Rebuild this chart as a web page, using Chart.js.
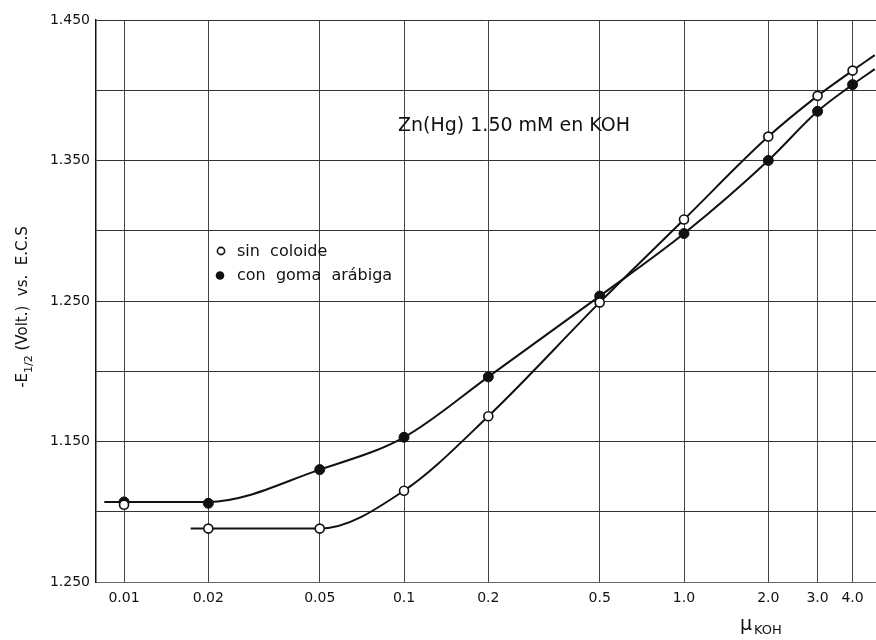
<!DOCTYPE html>
<html>
<head>
<meta charset="utf-8">
<script src="https://cdn.jsdelivr.net/npm/chart.js@4.4.1/dist/chart.umd.min.js"></script>
<style>
  html, body { margin: 0; padding: 0; background: #fff; }
  #wrap { width: 876px; height: 640px; }
</style>
</head>
<body>
<div id="wrap"><canvas id="chart"></canvas></div>
<script>
// measured points (mu KOH vs -E1/2)
const concentrations = [0.01, 0.02, 0.05, 0.1, 0.2, 0.5, 1.0, 2.0, 3.0, 4.0];
const sinColoide = [1.105, 1.088, 1.088, 1.115, 1.168, 1.249, 1.308, 1.367, 1.396, 1.414];
const conGoma = [1.107, 1.106, 1.130, 1.153, 1.196, 1.2535, 1.298, 1.350, 1.385, 1.404];

// hand-drawn fitted curves
const sinCurveX = [0.0173, 0.02, 0.05, 0.1, 0.2, 0.5, 1.0, 2.0, 3.0, 4.0, 4.8];
const sinCurveY = [1.088, 1.088, 1.088, 1.115, 1.168, 1.249, 1.308, 1.367, 1.396, 1.414, 1.425];
const gomaCurveX = [0.0085, 0.01, 0.02, 0.05, 0.1, 0.2, 0.5, 1.0, 2.0, 3.0, 4.0, 4.8];
const gomaCurveY = [1.107, 1.107, 1.107, 1.130, 1.153, 1.196, 1.2535, 1.298, 1.350, 1.385, 1.404, 1.415];

// axis ticks (the bottom label really reads 1.250 in the original)
const xTickValues = [0.01, 0.02, 0.05, 0.1, 0.2, 0.5, 1.0, 2.0, 3.0, 4.0];
const xTickLabels = ['0.01', '0.02', '0.05', '0.1', '0.2', '0.5', '1.0', '2.0', '3.0', '4.0'];
const yTickValues = [1.05, 1.15, 1.25, 1.35, 1.45];
const yTickLabels = ['1.250', '1.150', '1.250', '1.350', '1.450'];

const FONT = "'DejaVu Sans', sans-serif";

function pts(xs, ys) {
    return xs.map((x, i) => ({ x: x, y: ys[i] }));
}

// titles, legend and axis names drawn straight on the canvas
const annotations = {
    id: 'annotations',
    afterDraw(chart) {
        const ctx = chart.ctx;
        const area = chart.chartArea;
        ctx.save();
        ctx.fillStyle = '#111';
        ctx.strokeStyle = '#111';
        ctx.textBaseline = 'alphabetic';
        ctx.textAlign = 'left';

        // title
        ctx.font = '19px ' + FONT;
        ctx.fillText('Zn(Hg) 1.50 mM en KOH', area.left + 302, 131);

        // legend
        ctx.font = '16px ' + FONT;
        ctx.lineWidth = 1.6;
        ctx.beginPath();
        ctx.arc(area.left + 125, 251, 3.6, 0, Math.PI * 2);
        ctx.stroke();
        ctx.fillText('sin  coloide', area.left + 141, 256);
        ctx.beginPath();
        ctx.arc(area.left + 124, 275.5, 4.3, 0, Math.PI * 2);
        ctx.fill();
        ctx.fillText('con  goma  arábiga', area.left + 141, 280);

        // y axis title with subscript
        ctx.save();
        ctx.translate(27, 307);
        ctx.rotate(-Math.PI / 2);
        const big = '15px ' + FONT, small = '11px ' + FONT;
        const rest = ' (Volt.)  vs.  E.C.S';
        ctx.font = big;
        const w1 = ctx.measureText('-E').width;
        const w3 = ctx.measureText(rest).width;
        ctx.font = small;
        const w2 = ctx.measureText('1/2').width;
        const x0 = -(w1 + w2 + w3) / 2;
        ctx.font = big;
        ctx.fillText('-E', x0, 0);
        ctx.font = small;
        ctx.fillText('1/2', x0 + w1, 5);
        ctx.font = big;
        ctx.fillText(rest, x0 + w1 + w2, 0);
        ctx.restore();

        // x axis title
        ctx.font = '19px ' + FONT;
        ctx.fillText('\u03bc', 740, 630);
        ctx.font = '13px ' + FONT;
        ctx.fillText('KOH', 754, 634);

        ctx.restore();
    }
};

const ctx = document.getElementById('chart').getContext('2d');
new Chart(ctx, {
    type: 'line',
    data: {
        datasets: [
            {
                label: 'sin coloide',
                data: pts(concentrations, sinColoide),
                showLine: false,
                pointRadius: 4.5,
                pointBackgroundColor: '#fff',
                pointBorderColor: '#111',
                pointBorderWidth: 1.6,
                order: 0
            },
            {
                label: 'con goma arábiga',
                data: pts(concentrations, conGoma),
                showLine: false,
                pointRadius: 5,
                pointBackgroundColor: '#111',
                pointBorderColor: '#111',
                pointBorderWidth: 1,
                order: 1
            },
            {
                label: 'curve sin',
                data: pts(sinCurveX, sinCurveY),
                borderColor: '#111',
                borderWidth: 2,
                pointRadius: 0,
                cubicInterpolationMode: 'monotone',
                order: 2
            },
            {
                label: 'curve goma',
                data: pts(gomaCurveX, gomaCurveY),
                borderColor: '#111',
                borderWidth: 2,
                pointRadius: 0,
                cubicInterpolationMode: 'monotone',
                order: 3
            }
        ]
    },
    options: {
        responsive: true,
        maintainAspectRatio: false,
        animation: false,
        layout: { autoPadding: false, padding: { top: 20, right: 0, left: 0, bottom: 0 } },
        plugins: {
            legend: { display: false },
            tooltip: { enabled: false }
        },
        scales: {
            x: {
                type: 'logarithmic',
                min: 0.00794,
                max: 4.85,
                afterBuildTicks: (scale) => {
                    scale.ticks = xTickValues.map(v => ({ value: v }));
                },
                afterFit: (scale) => {
                    scale.height = 58;
                    scale.paddingLeft = 0;
                    scale.paddingRight = 0;
                },
                grid: { color: '#444', lineWidth: 1, drawTicks: false },
                border: { display: true, color: '#666', width: 1 },
                ticks: {
                    autoSkip: false,
                    maxRotation: 0,
                    padding: 8,
                    color: '#111',
                    font: { family: FONT, size: 14 },
                    callback: (value) => xTickLabels[xTickValues.indexOf(value)] || ''
                }
            },
            y: {
                min: 1.05,
                max: 1.45,
                afterFit: (scale) => { scale.width = 96; },
                grid: { color: '#333', lineWidth: 1, drawTicks: false },
                border: { display: true, color: '#111', width: 1.5 },
                ticks: {
                    stepSize: 0.05,
                    padding: 6,
                    color: '#111',
                    font: { family: FONT, size: 14 },
                    callback: (value) => {
                        const i = yTickValues.findIndex(v => Math.abs(v - value) < 1e-6);
                        return i >= 0 ? yTickLabels[i] : '';
                    }
                }
            }
        }
    },
    plugins: [annotations]
});
</script>
</body>
</html>
